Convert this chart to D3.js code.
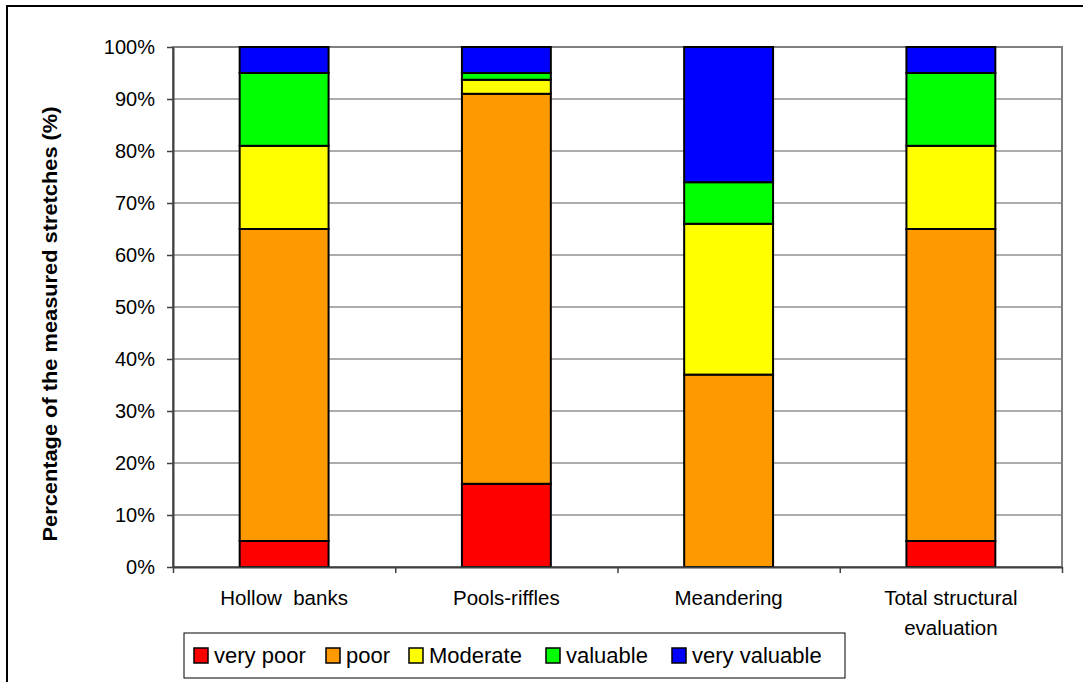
<!DOCTYPE html>
<html>
<head>
<meta charset="utf-8">
<script src="https://cdn.jsdelivr.net/npm/d3@7"></script>
<style>
  body { margin: 0; background: #fff; }
  text { font-family: "Liberation Sans", Arial, sans-serif; fill: #000; }
</style>
</head>
<body>
<svg id="chart" width="1083" height="682"></svg>
<script>
const categories = ["Hollow  banks", "Pools-riffles", "Meandering", "Total structural\nevaluation"];
const seriesNames = ["very poor", "poor", "Moderate", "valuable", "very valuable"];
const veryPoor     = [5, 16, 0, 5];
const poor         = [60, 75, 37, 60];
const moderate     = [16, 2.7, 29, 16];
const valuable     = [14, 1.3, 8, 14];
const veryValuable = [5, 5, 26, 5];
const yTicks = [0, 10, 20, 30, 40, 50, 60, 70, 80, 90, 100];
const colors = ["#ff0000", "#ff9900", "#ffff00", "#00ff00", "#0000ff"];

const margin = { top: 47, right: 21, bottom: 115, left: 173 },
    width = 1083 - margin.left - margin.right,
    height = 682 - margin.top - margin.bottom;

const svg = d3.select("#chart");

// outer chart frame (cut off at right and bottom)
svg.append("rect")
    .attr("x", 7).attr("y", 6)
    .attr("width", 1100).attr("height", 700)
    .attr("fill", "none")
    .attr("stroke", "#000")
    .attr("stroke-width", 2);

const g = svg.append("g")
    .attr("transform", `translate(${margin.left},${margin.top})`);

const table = categories.map((c, i) => ({
    cat: c,
    "very poor": veryPoor[i],
    "poor": poor[i],
    "Moderate": moderate[i],
    "valuable": valuable[i],
    "very valuable": veryValuable[i]
}));
const stacked = d3.stack().keys(seriesNames)(table);

const x = d3.scaleBand()
    .domain(categories)
    .range([0, width])
    .paddingInner(0.6)
    .paddingOuter(0.3);

const xEdge = d3.scaleLinear()
    .domain([0, categories.length])
    .range([0, width]);

const y = d3.scaleLinear()
    .domain([0, 100])
    .range([height, 0]);

// gridlines
g.append("g")
    .selectAll("line")
    .data(yTicks.slice(1, -1))
    .enter()
    .append("line")
    .attr("x1", 0).attr("x2", width)
    .attr("y1", d => y(d)).attr("y2", d => y(d))
    .attr("stroke", "#5a5a5a")
    .attr("stroke-width", 1);

// plot area border
g.append("rect")
    .attr("x", 0).attr("y", 0)
    .attr("width", width).attr("height", height)
    .attr("fill", "none")
    .attr("stroke", "#808080")
    .attr("stroke-width", 2);

// bars
g.selectAll(".series")
    .data(stacked)
    .enter()
    .append("g")
    .attr("fill", (d, i) => colors[i])
    .selectAll("rect")
    .data(d => d.filter(s => s[1] - s[0] > 0))
    .enter()
    .append("rect")
    .attr("x", d => x(d.data.cat))
    .attr("y", d => y(d[1]))
    .attr("width", x.bandwidth())
    .attr("height", d => y(d[0]) - y(d[1]))
    .attr("stroke", "#000")
    .attr("stroke-width", 2);

// y axis
const yAxis = g.append("g")
    .call(d3.axisLeft(y).tickValues(yTicks).tickFormat(d => d + "%").tickSize(6).tickSizeOuter(0));
yAxis.select(".domain").attr("stroke", "#404040").attr("stroke-width", 2);
yAxis.selectAll(".tick line").attr("stroke", "#404040").attr("stroke-width", 1.5);
yAxis.selectAll("text")
    .attr("x", -18)
    .style("font-size", "20px")
    .style("font-family", "Liberation Sans, Arial, sans-serif");

// x axis
const xAxis = g.append("g")
    .attr("transform", `translate(0,${height})`)
    .call(d3.axisBottom(xEdge).tickValues(d3.range(categories.length + 1)).tickFormat("").tickSize(6).tickSizeOuter(0));
xAxis.select(".domain").attr("stroke", "#404040").attr("stroke-width", 2);
xAxis.selectAll(".tick line").attr("stroke", "#404040").attr("stroke-width", 1.5);

// category labels
const catLabels = g.append("g")
    .selectAll("text")
    .data(categories)
    .enter()
    .append("text")
    .attr("text-anchor", "middle")
    .attr("x", d => x(d) + x.bandwidth() / 2)
    .attr("y", height + 38)
    .style("font-size", "20.5px")
    .style("white-space", "pre");
catLabels.each(function(d) {
    const lines = d.split("\n");
    d3.select(this).selectAll("tspan")
        .data(lines)
        .enter()
        .append("tspan")
        .attr("x", x(d) + x.bandwidth() / 2)
        .attr("dy", (l, i) => i === 0 ? 0 : 30)
        .text(l => l);
});

// y axis title
svg.append("text")
    .attr("transform", "translate(57,324) rotate(-90)")
    .attr("text-anchor", "middle")
    .attr("textLength", 435)
    .attr("lengthAdjust", "spacingAndGlyphs")
    .style("font-size", "19.5px")
    .style("font-weight", "bold")
    .text("Percentage of the measured stretches (%)");

// legend
const legend = svg.append("g").attr("transform", "translate(184,633)");
legend.append("rect")
    .attr("width", 661).attr("height", 45)
    .attr("fill", "#fff")
    .attr("stroke", "#000")
    .attr("stroke-width", 1);

const legendX = [10, 142, 225, 362, 488];
const items = legend.selectAll(".item")
    .data(seriesNames)
    .enter()
    .append("g")
    .attr("transform", (d, i) => `translate(${legendX[i]},0)`);
items.append("rect")
    .attr("x", 0).attr("y", 15)
    .attr("width", 14).attr("height", 15)
    .attr("fill", (d, i) => colors[i])
    .attr("stroke", "#000")
    .attr("stroke-width", 1.5);
items.append("text")
    .attr("x", 20)
    .attr("y", 30)
    .style("font-size", "22px")
    .text(d => d);
</script>
</body>
</html>
